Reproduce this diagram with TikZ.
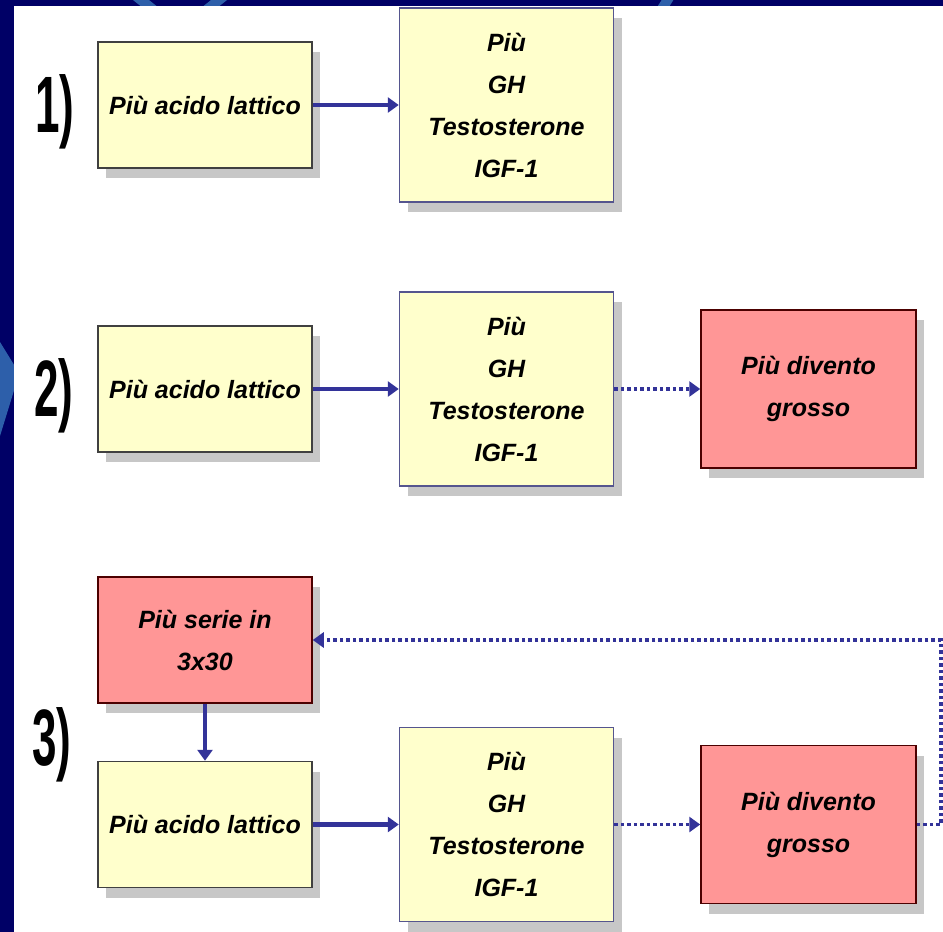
\documentclass[tikz,border=0pt]{standalone}
\usepackage{graphicx}
\usepackage{fontspec}
\setmainfont{Liberation Sans}
\usetikzlibrary{arrows.meta,positioning,shadows}
\definecolor{slidenavy}{RGB}{0,0,102}
\definecolor{slidearc}{RGB}{45,95,170}
\definecolor{boxyellow}{RGB}{255,255,204}
\definecolor{boxred}{RGB}{255,150,150}
\definecolor{arrowblue}{RGB}{51,51,153}

\begin{document}
\begin{tikzpicture}[
  x=1pt, y=-1pt,
  font=\fontsize{25}{42}\selectfont\bfseries\itshape,
  box/.style={draw=black!75, line width=1.5pt, align=center, inner sep=0pt, minimum width=214pt, minimum height=126pt, fill=boxyellow,
    drop shadow={shadow xshift=8pt, shadow yshift=-10pt, fill=black!22, opacity=1}},
  tallbox/.style={box, draw=arrowblue!55!gray, minimum height=194pt},
  redbox/.style={box, draw=black!70!red, fill=boxred, minimum width=215pt, minimum height=158pt},
  num/.style={font=\fontsize{80}{80}\selectfont\bfseries},
  arrow/.style={-{Triangle[length=11pt, width=15pt]}, line width=4.5pt, draw=arrowblue},
  dotarrow/.style={arrow, line width=3.5pt, dash pattern=on 3.5pt off 3pt}
]
\useasboundingbox (0,0) rectangle (943,932);
\fill[slidenavy] (0,0) rectangle (943,932);
\draw[slidearc, line width=10pt] (136,-4) -- (156,12) (224,-4) -- (204,12) (670,-4) -- (660,12);
\fill[slidearc] (0,342) -- (16,368) -- (16,384) -- (0,436) -- cycle;
\fill[white] (14,6) rectangle (943,932);

\node[num] (n1) at (55,112) {\scalebox{0.55}[1]{1)}};
\node[num] (n2) at (54,396) {\scalebox{0.55}[1]{2)}};
\node[num] (n3) at (52,745) {\scalebox{0.55}[1]{3)}};

\node[box] (lac1) at (205,105) {Più acido lattico};
\node[tallbox, right=86pt of lac1] (orm1) {Più\\GH\\Testosterone\\IGF-1};

\node[box] (lac2) at (205,389) {Più acido lattico};
\node[tallbox, right=86pt of lac2] (orm2) {Più\\GH\\Testosterone\\IGF-1};
\node[redbox, right=86pt of orm2] (big2) {Più divento\\grosso};

\node[redbox, minimum width=214pt, minimum height=126pt] (serie3) at (205,640) {Più serie in\\3x30};
\node[box, below=57pt of serie3] (lac3) {Più acido lattico};
\node[tallbox, right=86pt of lac3] (orm3) {Più\\GH\\Testosterone\\IGF-1};
\node[redbox, right=86pt of orm3] (big3) {Più divento\\grosso};

\draw[arrow] (lac1.east) -- (orm1.west);
\draw[arrow] (lac2.east) -- (orm2.west);
\draw[dotarrow] (orm2.east) -- (big2.west);
\draw[arrow] (serie3) -- (lac3);
\draw[arrow] (lac3.east) -- (orm3.west);
\draw[dotarrow] (orm3.east) -- (big3.west);
\draw[dotarrow] (big3.east) -- ++(24,0) |- (serie3.east);
\end{tikzpicture}
\end{document}
